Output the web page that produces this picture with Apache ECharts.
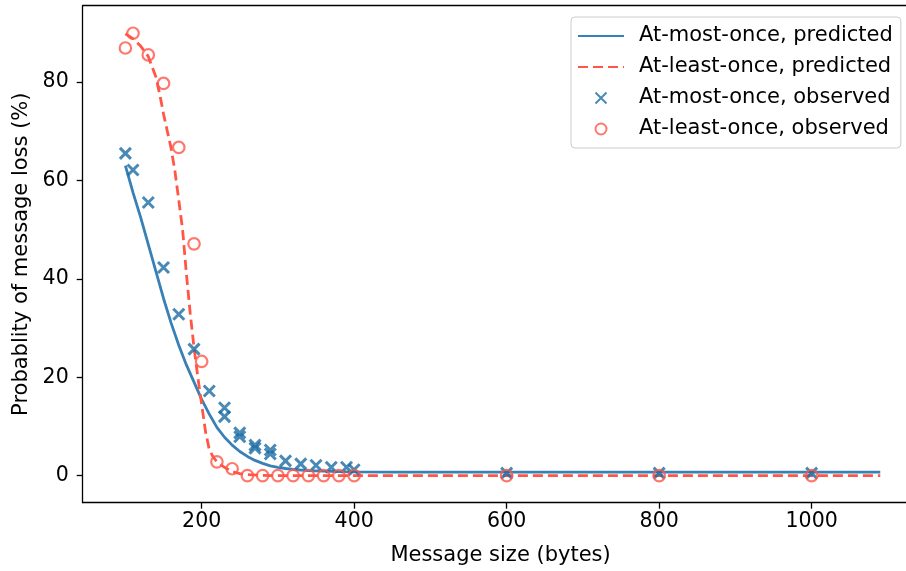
<!DOCTYPE html>
<html>
<head>
<meta charset="utf-8">
<script src="https://cdn.jsdelivr.net/npm/echarts@6/dist/echarts.min.js"></script>
<style>
  html, body { margin: 0; padding: 0; background: #ffffff; overflow: hidden; }
  /* the drawing surface is a bit wider than the window: the plot frame runs off its right edge */
  #chart { width: 930px; height: 571px; }
</style>
</head>
<body>
<div id="chart"></div>
<script>
// Tick positions
const xTicks = [200, 400, 600, 800, 1000];
const yTicks = [0, 20, 40, 60, 80];

// Model prediction, at-most-once delivery (%)
const amoPredX = [100, 110, 120, 130, 140, 150, 160, 170, 180, 190, 200, 210, 220, 230, 240, 250, 260, 270, 280, 290, 300, 310, 320, 340, 360, 380, 400, 450, 500, 600, 700, 800, 900, 1000, 1090];
const amoPredY = [63, 57.5, 52.5, 47, 41.5, 36, 31, 26.5, 22.5, 19, 15.5, 12.5, 9.8, 7.8, 6.2, 4.9, 3.9, 3.1, 2.5, 2.0, 1.7, 1.45, 1.25, 1.0, 0.9, 0.8, 0.75, 0.72, 0.72, 0.72, 0.72, 0.72, 0.72, 0.72, 0.72];

// Model prediction, at-least-once delivery (%)
const aloPredX = [100, 110, 120, 130, 140, 145, 150, 155, 160, 165, 170, 175, 180, 185, 190, 195, 200, 205, 210, 215, 220, 230, 240, 250, 260, 280, 300, 400, 500, 600, 700, 800, 900, 1000, 1090];
const aloPredY = [89.8, 88.8, 87.3, 85.2, 81, 77.5, 73.5, 70, 66.5, 61.8, 56, 50, 41, 33, 26, 20, 14.5, 9, 5.3, 3.8, 2.8, 1.7, 0.8, 0.4, 0.2, 0.05, 0, 0, 0, 0, 0, 0, 0, 0, 0];

// Measurements, at-most-once delivery (%)
const amoObsX = [100, 110, 130, 150, 170, 190, 210, 230, 230, 250, 250, 270, 270, 290, 290, 310, 330, 350, 370, 390, 400, 600, 800, 1000];
const amoObsY = [65.5, 62.1, 55.5, 42.3, 32.8, 25.7, 17.2, 13.8, 12.0, 8.7, 7.9, 6.2, 5.6, 5.2, 4.4, 3.0, 2.4, 2.1, 1.7, 1.7, 1.2, 0.5, 0.5, 0.5];

// Measurements, at-least-once delivery (%)
const aloObsX = [100, 110, 130, 150, 170, 190, 200, 220, 240, 260, 280, 300, 320, 340, 360, 380, 400, 600, 800, 1000];
const aloObsY = [86.9, 89.9, 85.5, 79.7, 66.7, 47.1, 23.2, 2.8, 1.4, 0, 0, 0, 0, 0, 0, 0, 0, 0, 0, 0];

const BLUE_LINE = '#3880b5';
const BLUE_MARK = '#1b6ba3';
const RED = '#ff5648';
const FONT = 'DejaVu Sans';
const X_MIN = 44, X_MAX = 1140;

const zip = (xs, ys) => xs.map((x, i) => [x, ys[i]]);
const hiddenSymbol = { opacity: 0, color: 'transparent', borderWidth: 0 };

const chart = echarts.init(document.getElementById('chart'), null, { renderer: 'canvas' });

chart.setOption({
  animation: false,
  backgroundColor: '#ffffff',
  grid: {
    left: 82.7, top: 5.7, right: 11.6, bottom: 68.3,
    show: false, containLabel: false
  },
  // blank strip at the window's right edge, between the frame lines
  graphic: [{
    type: 'rect', silent: true, z: 100,
    shape: { x: 893, y: 152, width: 20, height: 346 },
    style: { fill: '#ffffff' }
  }],
  xAxis: [
    {
      type: 'value', min: X_MIN, max: X_MAX, position: 'bottom',
      splitLine: { show: false },
      axisLine: { show: true, onZero: false, lineStyle: { color: '#000000', width: 1.3 } },
      axisTick: { show: true, customValues: xTicks, length: 6, lineStyle: { color: '#000000', width: 1.3 } },
      axisLabel: { customValues: xTicks, color: '#000000', fontSize: 20.5, fontFamily: FONT, margin: 8,
                   formatter: v => String(v) },
      name: 'Message size (bytes)', nameLocation: 'middle', nameGap: 42,
      nameTextStyle: { color: '#000000', fontSize: 21, fontFamily: FONT }
    },
    {
      // top frame line
      type: 'value', min: X_MIN, max: X_MAX, position: 'top',
      splitLine: { show: false },
      axisLine: { show: true, onZero: false, lineStyle: { color: '#000000', width: 1.3 } },
      axisTick: { show: false }, axisLabel: { show: false }
    }
  ],
  yAxis: {
    type: 'value', min: -5.5, max: 95.5,
    splitLine: { show: false },
    axisLine: { show: true, onZero: false, lineStyle: { color: '#000000', width: 1.3 } },
    axisTick: { show: true, customValues: yTicks, length: 6, lineStyle: { color: '#000000', width: 1.3 } },
    axisLabel: { customValues: yTicks, color: '#000000', fontSize: 20.5, fontFamily: FONT, margin: 14 },
    name: 'Probablity of message loss (%)', nameLocation: 'middle', nameGap: 51,
    nameTextStyle: { color: '#000000', fontSize: 21, fontFamily: FONT }
  },
  legend: {
    orient: 'vertical', left: 571, top: 17,
    padding: [7, 8, 7, 6],
    itemWidth: 46, itemHeight: 11, itemGap: 7,
    borderColor: '#cccccc', borderWidth: 1, borderRadius: 4,
    backgroundColor: '#ffffff',
    textStyle: { fontSize: 21, fontFamily: FONT, color: '#000000', lineHeight: 24, padding: [0, 0, 0, 10] },
    data: [
      { name: 'At-most-once, predicted', itemStyle: hiddenSymbol },
      { name: 'At-least-once, predicted', itemStyle: hiddenSymbol },
      { name: 'At-most-once, observed' },
      { name: 'At-least-once, observed' }
    ]
  },
  series: [
    {
      name: 'At-most-once, predicted', type: 'line', data: zip(amoPredX, amoPredY),
      symbol: 'none', smooth: false, z: 2,
      itemStyle: { color: BLUE_LINE },
      lineStyle: { color: BLUE_LINE, width: 2.8 }
    },
    {
      name: 'At-least-once, predicted', type: 'line', data: zip(aloPredX, aloPredY),
      symbol: 'none', smooth: false, z: 3,
      itemStyle: { color: RED },
      lineStyle: { color: RED, width: 2.8, type: [10, 5] }
    },
    {
      name: 'At-most-once, observed', type: 'scatter', data: zip(amoObsX, amoObsY),
      symbol: 'path://M0,0L10,10M10,0L0,10', symbolSize: 11, z: 4,
      itemStyle: { color: 'transparent', borderColor: BLUE_MARK, borderWidth: 3 }
    },
    {
      name: 'At-least-once, observed', type: 'scatter', data: zip(aloObsX, aloObsY),
      symbol: 'circle', symbolSize: 11.5, z: 4,
      itemStyle: { color: 'transparent', borderColor: RED, borderWidth: 2.2 }
    }
  ]
});
</script>
</body>
</html>
